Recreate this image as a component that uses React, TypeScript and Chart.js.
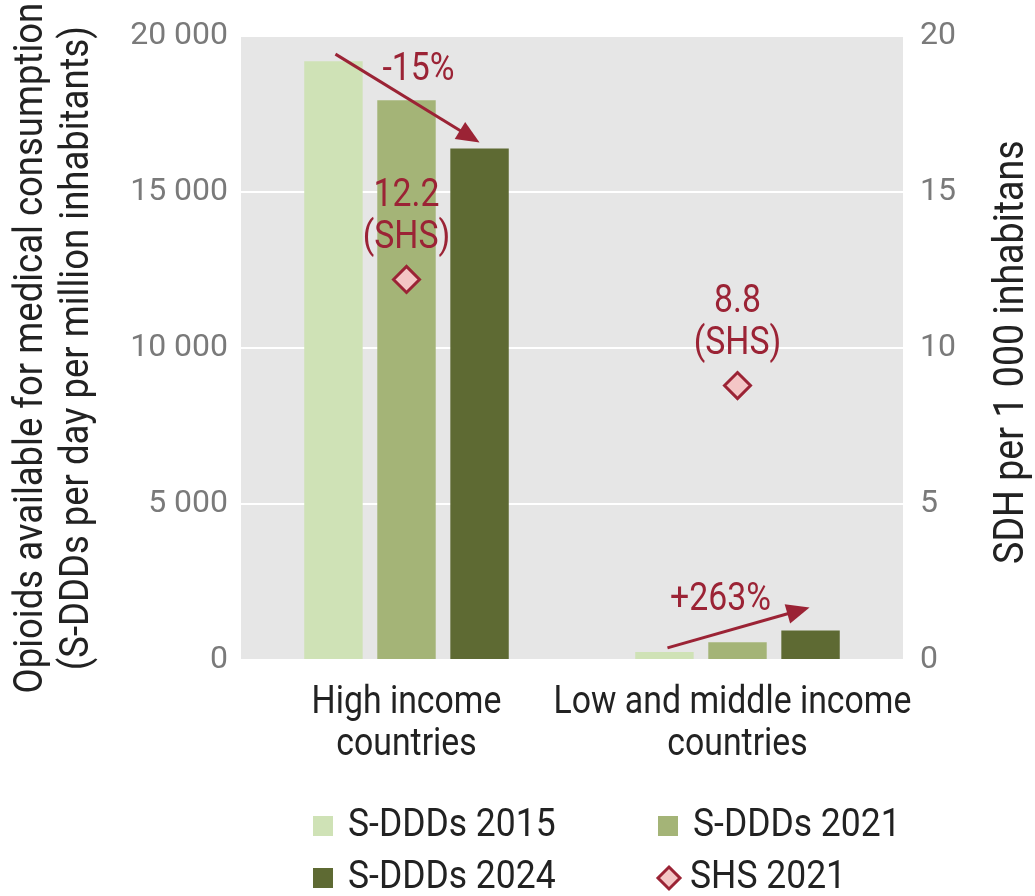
import React, { useEffect, useRef } from 'react';
import { Chart, registerables } from 'chart.js';

Chart.register(...registerables);

// ---- data ----
const categories = [['High income', 'countries'], ['Low and middle income', 'countries']];
const sddd2015 = [19200, 260];
const sddd2021 = [17950, 570];
const sddd2024 = [16400, 944];
const shs2021 = [12.2, 8.8];
const changeLabels = ['-15%', '+263%'];
const seriesLabels = ['S-DDDs 2015', 'S-DDDs 2021', 'S-DDDs 2024', 'SHS 2021'];
const leftTitle = ['Opioids available for medical consumption', '(S-DDDs per day per million inhabitants)'];
const rightTitle = 'SDH per 1 000 inhabitans';
const leftMax = 20000;
const leftStep = 5000;
const rightMax = 20;
const rightStep = 5;

// ---- styles ----
const C2015 = '#cfe2b6';
const C2021 = '#a4b477';
const C2024 = '#5e6a33';
const RED = '#9b2335';
const PINK = '#f4c6c6';
const BG = '#e6e6e6';
const TEXT = '#222222';
const TICK = '#7a7a7a';
const FONT = 'Roboto';
const SX = 0.89;

function ctext(ctx: CanvasRenderingContext2D, text: string, x: number, y: number, size: number, color: string, align: CanvasTextAlign = 'center', rot = 0, sx = SX) {
  ctx.save();
  ctx.translate(x, y);
  if (rot) ctx.rotate(rot);
  ctx.scale(sx, 1);
  ctx.font = `400 ${size}px ${FONT}`;
  ctx.fillStyle = color;
  ctx.textAlign = align;
  ctx.textBaseline = 'middle';
  ctx.fillText(text, 0, 0);
  ctx.restore();
}

function arrow(ctx: CanvasRenderingContext2D, x1: number, y1: number, x2: number, y2: number) {
  const ang = Math.atan2(y2 - y1, x2 - x1);
  const headLen = 23;
  const headW = 10;
  const bx = x2 - Math.cos(ang) * headLen;
  const by = y2 - Math.sin(ang) * headLen;
  ctx.save();
  ctx.strokeStyle = RED;
  ctx.fillStyle = RED;
  ctx.lineWidth = 3;
  ctx.beginPath();
  ctx.moveTo(x1, y1);
  ctx.lineTo(bx + Math.cos(ang) * 2, by + Math.sin(ang) * 2);
  ctx.stroke();
  ctx.beginPath();
  ctx.moveTo(x2, y2);
  ctx.lineTo(bx + Math.sin(ang) * headW, by - Math.cos(ang) * headW);
  ctx.lineTo(bx - Math.sin(ang) * headW, by + Math.cos(ang) * headW);
  ctx.closePath();
  ctx.fill();
  ctx.restore();
}

const fmt = (v: number) => String(v).replace(/\B(?=(\d{3})+(?!\d))/g, ' ');

const decorPlugin = {
  id: 'decor',
  beforeDraw(chart: any) {
    const { ctx, chartArea: a } = chart;
    ctx.save();
    ctx.fillStyle = BG;
    ctx.fillRect(a.left, a.top, a.right - a.left, a.bottom - a.top);
    ctx.restore();
  },
  afterDatasetsDraw(chart: any) {
    const { ctx, chartArea: a, scales } = chart;
    const b15 = chart.getDatasetMeta(1).data;
    const b24 = chart.getDatasetMeta(3).data;
    const pts = chart.getDatasetMeta(0).data;

    // change arrows
    arrow(ctx, b15[0].x + 2, b15[0].y - 7, b24[0].x, b24[0].y - 6);
    ctext(ctx, changeLabels[0], (b15[0].x + b24[0].x) / 2 + 12, b15[0].y + 9, 38, RED);
    arrow(ctx, b15[1].x + 3, b15[1].y - 4, b24[1].x - 1, b24[1].y - 23);
    ctext(ctx, changeLabels[1], (b15[1].x + b24[1].x) / 2 - 17, b24[1].y - 30, 38, RED);

    // SHS value labels
    pts.forEach((p: any, i: number) => {
      ctext(ctx, shs2021[i].toFixed(1), p.x, p.y - 83, 38, RED);
      ctext(ctx, '(SHS)', p.x, p.y - 41, 38, RED);
    });

    // category labels
    const xs = scales.x;
    categories.forEach((lines, i) => {
      const cx = xs.getPixelForValue(i);
      lines.forEach((ln, j) => ctext(ctx, ln, cx - (i === 1 && j === 0 ? 5 : 0), a.bottom + 43 + j * 42, 38, TEXT));
    });

    // axis titles
    const cy = (a.top + a.bottom) / 2;
    ctext(ctx, leftTitle[0], 32, cy, 41, TEXT, 'center', -Math.PI / 2);
    ctext(ctx, leftTitle[1], 78, cy, 41, TEXT, 'center', -Math.PI / 2);
    ctext(ctx, rightTitle, 1012, cy + 4, 42, TEXT, 'center', -Math.PI / 2, 0.895);

    // legend
    const items = [
      { t: seriesLabels[0], c: C2015, x: 313, y: 826, k: 'sq' },
      { t: seriesLabels[1], c: C2021, x: 658, y: 826, k: 'sq' },
      { t: seriesLabels[2], c: C2024, x: 313, y: 878, k: 'sq' },
      { t: seriesLabels[3], c: PINK, x: 658, y: 878, k: 'dia' },
    ];
    items.forEach((it) => {
      ctx.save();
      if (it.k === 'sq') {
        ctx.fillStyle = it.c;
        ctx.fillRect(it.x, it.y - 10, 20, 20);
      } else {
        ctx.fillStyle = PINK;
        ctx.strokeStyle = RED;
        ctx.lineWidth = 3;
        ctx.beginPath();
        const cx = it.x + 11;
        ctx.moveTo(cx, it.y - 11);
        ctx.lineTo(cx + 11, it.y);
        ctx.lineTo(cx, it.y + 11);
        ctx.lineTo(cx - 11, it.y);
        ctx.closePath();
        ctx.fill();
        ctx.stroke();
      }
      ctx.restore();
      ctext(ctx, it.t, it.k === 'sq' ? it.x + 35 : it.x + 32, it.y, 39, TEXT, 'left', 0, 0.91);
    });
  },
};

export default function App() {
  const ref = useRef<HTMLCanvasElement>(null);
  useEffect(() => {
    if (!ref.current) return;
    const chart = new Chart(ref.current, {
      type: 'bar',
      data: {
        labels: categories.map((c) => c.join(' ')),
        datasets: [
          {
            type: 'line',
            label: seriesLabels[3],
            data: shs2021,
            yAxisID: 'y1',
            showLine: false,
            pointStyle: 'rectRot',
            pointRadius: 13,
            pointBackgroundColor: PINK,
            pointBorderColor: RED,
            pointBorderWidth: 3,
            order: -1,
          } as any,
          { label: seriesLabels[0], data: sddd2015, backgroundColor: C2015, yAxisID: 'y' },
          { label: seriesLabels[1], data: sddd2021, backgroundColor: C2021, yAxisID: 'y' },
          { label: seriesLabels[2], data: sddd2024, backgroundColor: C2024, yAxisID: 'y' },
        ],
      },
      options: {
        responsive: false,
        animation: false,
        datasets: { bar: { categoryPercentage: 0.662, barPercentage: 0.8 } },
        layout: { padding: { top: 33, left: 0, right: 0, bottom: 0 } },
        plugins: { legend: { display: false }, tooltip: { enabled: false } },
        scales: {
          x: {
            grid: { display: false },
            border: { display: false },
            ticks: { display: false },
            afterFit: (s: any) => { s.height = 236; },
          },
          y: {
            position: 'left',
            min: 0,
            max: leftMax,
            grid: { color: '#ffffff', lineWidth: 2, drawTicks: false },
            border: { display: false },
            ticks: { stepSize: leftStep, padding: 13, color: TICK, font: { family: FONT, size: 32 }, callback: (v: any) => fmt(v) },
            afterFit: (s: any) => { s.width = 241; },
          },
          y1: {
            position: 'right',
            min: 0,
            max: rightMax,
            grid: { display: false, drawTicks: false },
            border: { display: false },
            ticks: { stepSize: rightStep, padding: 17, color: TICK, font: { family: FONT, size: 32 } },
            afterFit: (s: any) => { s.width = 132; },
          },
        },
      } as any,
      plugins: [decorPlugin],
    });
    return () => chart.destroy();
  }, []);
  return (
    <div style={{ position: 'absolute', left: 0, top: 0, width: 1035, height: 896, background: '#fff' }}>
      <canvas ref={ref} width={1035} height={896} style={{ display: 'block' }} />
    </div>
  );
}
